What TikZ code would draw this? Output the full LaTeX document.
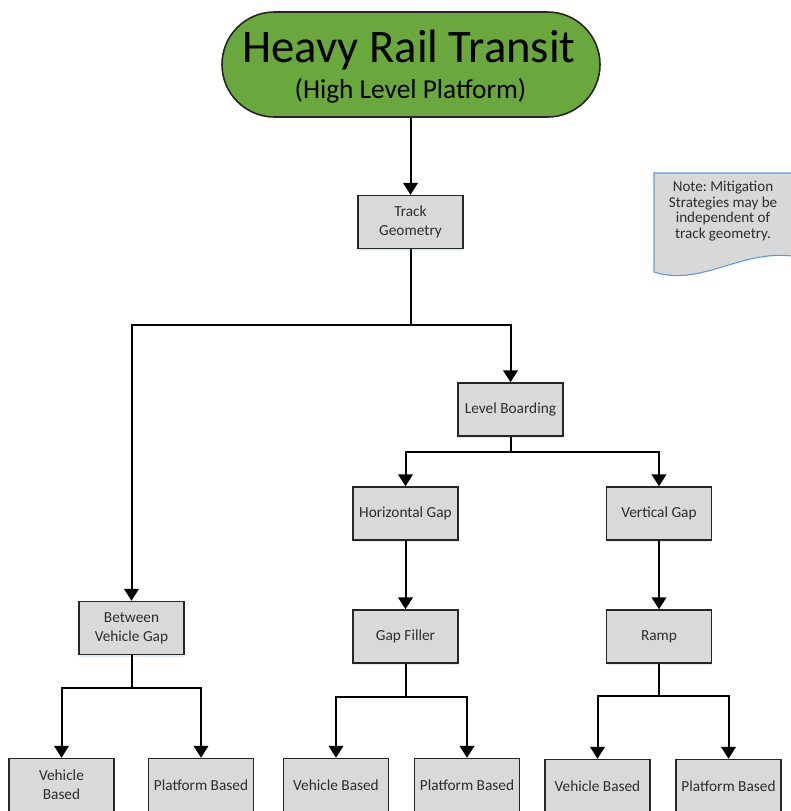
\documentclass[tikz,border=0pt]{standalone}
\usepackage{fontspec}
\setmainfont{Carlito}
\usetikzlibrary{arrows.meta,shapes.misc,shadows}
\definecolor{titlegreen}{RGB}{106,168,62}
\definecolor{boxgray}{RGB}{217,217,217}
\definecolor{notegray}{RGB}{216,216,216}
\definecolor{noteblue}{RGB}{91,155,213}
\definecolor{boxtext}{RGB}{45,45,45}
\frenchspacing
\begin{document}
\begin{tikzpicture}[x=0.75pt,y=-0.75pt,
  box/.style={draw=black!85,line width=1.1pt,fill=boxgray,
    minimum width=78.75pt,minimum height=39.75pt,inner sep=2pt,
    align=center,text=boxtext,font=\fontsize{11.5}{14.25}\selectfont,
    drop shadow={shadow xshift=0pt,shadow yshift=-1.5pt,opacity=0.18,fill=noteblue}},
  wire/.style={line width=1.5pt,draw=black},
  link/.style={wire,-{Triangle[width=11pt,length=9pt]}}]
\useasboundingbox (0,0) rectangle (790,811);

% title banner
\node[rounded rectangle,draw=black!85,line width=1.2pt,fill=titlegreen,
  minimum width=283.5pt,minimum height=78.75pt,inner sep=0pt] (title) at (411,64.5) {};
\node[anchor=base,inner sep=0pt,font=\fontsize{35}{36}\selectfont] (titletxt) at (409,62) {Heavy Rail Transit};
\node[anchor=base,inner sep=0pt,font=\fontsize{20.5}{24}\selectfont] (subtxt) at (410.5,98) {(High Level Platform)};

% note
\draw[noteblue,line width=0.8pt,fill=notegray]
  (654,173) -- (792,173) -- (792,256)
  .. controls (740,250) and (700,287) .. (654,272) -- cycle;
\node[align=center,text=boxtext,font=\fontsize{11.3}{11.6}\selectfont,inner sep=0pt] (note) at (723,211)
  {Note: Mitigation\\Strategies may be\\independent of\\track geometry.};

% boxes
\node[box] (track) at (410.5,222) {Track\\Geometry};
\node[box] (lb) at (510.5,409.5) {Level Boarding};
\node[box] (hg) at (405.5,513.5) {Horizontal Gap};
\node[box] (vg) at (659,513.5) {Vertical Gap};
\node[box] (gf) at (405.5,636.5) {Gap Filler};
\node[box] (ramp) at (659,636.5) {Ramp};
\node[box] (bvg) at (131.5,628) {Between\\Vehicle Gap};

\node[box] (vb1) at (61.5,785) {Vehicle\\Based};
\node[box] (pb1) at (201,785) {Platform Based};
\node[box] (vb2) at (336,785) {Vehicle Based};
\node[box] (pb2) at (467,785) {Platform Based};
\node[box] (vb3) at (597.5,786) {Vehicle Based};
\node[box] (pb3) at (728.5,786) {Platform Based};

% connectors
\draw[link] (track.north |- title.south) -- (track.north);

\coordinate (s1) at (410.5,325);
\draw[wire] (track.south) -- (s1);
\draw[link] (s1) -| (bvg.north);
\draw[link] (s1) -| (lb.north);

\coordinate (s2) at (510.5,452);
\draw[wire] (lb.south) -- (s2);
\draw[link] (s2) -| (hg.north);
\draw[link] (s2) -| (vg.north);

\draw[link] (hg) -- (gf);
\draw[link] (vg) -- (ramp);

\coordinate (s3) at (131.5,688);
\draw[wire] (bvg.south) -- (s3);
\draw[link] (s3) -| (vb1.north);
\draw[link] (s3) -| (pb1.north);

\coordinate (s4) at (405.5,697);
\draw[wire] (gf.south) -- (s4);
\draw[link] (s4) -| (vb2.north);
\draw[link] (s4) -| (pb2.north);

\coordinate (s5) at (659,696);
\draw[wire] (ramp.south) -- (s5);
\draw[link] (s5) -| (vb3.north);
\draw[link] (s5) -| (pb3.north);
\end{tikzpicture}
\end{document}
